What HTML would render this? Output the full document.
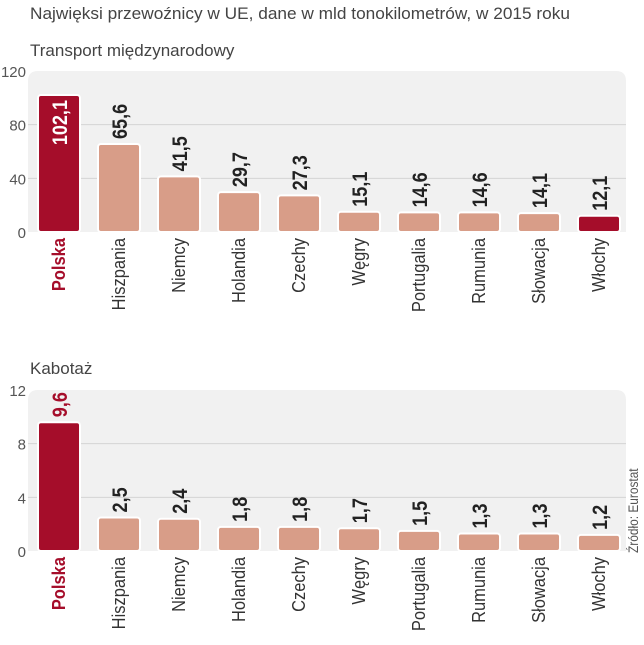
<!DOCTYPE html>
<html><head><meta charset="utf-8"><style>
body{margin:0;background:#fff;width:644px;height:640px;overflow:hidden;font-family:"Liberation Sans",sans-serif}
</style></head><body>
<svg id="c" width="644" height="640" xmlns="http://www.w3.org/2000/svg">
<text x="30" y="19" font-size="17" fill="#444" textLength="540" lengthAdjust="spacingAndGlyphs">Najwięksi przewoźnicy w UE, dane w mld tonokilometrów, w 2015 roku</text>
<text x="30" y="56" font-size="17" fill="#444">Transport międzynarodowy</text>
<text x="30" y="374" font-size="17" fill="#444">Kabotaż</text>
<text transform="translate(638,553) rotate(-90) scale(0.85,1)" font-size="14" fill="#555">Źródło: Eurostat</text>
</svg>
<script>
const categories=["Polska","Hiszpania","Niemcy","Holandia","Czechy","Węgry","Portugalia","Rumunia","Słowacja","Włochy"];
const intlValues=[102.1,65.6,41.5,29.7,27.3,15.1,14.6,14.6,14.1,12.1];
const cabValues=[9.6,2.5,2.4,1.8,1.8,1.7,1.5,1.3,1.3,1.2];
const intlTicks=[0,40,80,120];
const cabTicks=[0,4,8,12];
const highlighted=["Polska","Włochy"];
const cabHighlighted=["Polska"];
const svg=document.getElementById('c');
const NS="http://www.w3.org/2000/svg";
function mk(t,a){const e=document.createElementNS(NS,t);for(const k in a)e.setAttribute(k,a[k]);svg.appendChild(e);return e;}
function panel(vals,ticks,hl,y0,maxV,prefix,insideLabel){
  const h=161;const yS=v=>y0-v/maxV*h;const xC=i=>59+i*60;
  const bg=mk('path',{d:`M28,${y0} L28,${y0-h+10} Q28,${y0-h} 38,${y0-h} L616,${y0-h} Q626,${y0-h} 626,${y0-h+10} L626,${y0} Z`,fill:'#f1f1f1'});
  
  
  ticks.forEach(t=>{
    const y=yS(t);
    if(t>0&&t<maxV){const l=mk('line',{x1:28,x2:626,y1:y,y2:y,stroke:'#d4d4d4','stroke-width':1});
      
      }
    const tx=mk('text',{x:26,y:y+6,'text-anchor':'end','font-size':15,fill:'#555'});
    tx.textContent=t;
    
    
  });
  vals.forEach((v,i)=>{
    const isH=hl.includes(categories[i]);
    const top=yS(v);const x=xC(i)-21;
    const r=mk('rect',{x:x,y:top,width:42,height:y0-top,rx:3,fill:isH?'#a50d2a':'#d89d88',stroke:'#fff','stroke-width':2});
    
    
    const lbl=v.toFixed(1).replace('.',',');
    const inside=insideLabel&&i===0;
    const ty=inside?top+5:top-5;
    const t=mk('text',{transform:`translate(${xC(i)+8},${ty}) rotate(-90) scale(0.95,1.1)`,'text-anchor':inside?'end':'start','font-size':19,'font-weight':'bold',fill:inside?'#fff':(i===0?'#a50d2a':'#222')});
    t.textContent=lbl;
    
    
    const c=mk('text',{transform:`translate(${xC(i)+6},${y0+6}) rotate(-90) scale(0.97,1.1)`,'text-anchor':'end','font-size':17,'font-weight':i===0?'bold':'normal',fill:i===0?'#a50d2a':'#333'});
    c.textContent=categories[i];
    
    
  });
}
panel(intlValues,intlTicks,highlighted,232,120,'intl',true);
panel(cabValues,cabTicks,cabHighlighted,551,12,'cab',false);
</script>
</body></html>
